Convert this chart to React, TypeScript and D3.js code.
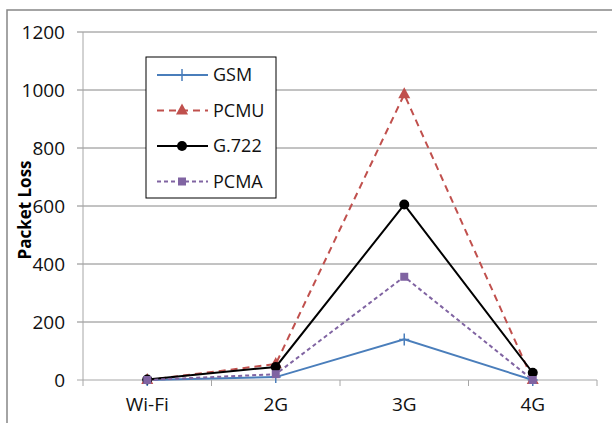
import React from "react";
import * as d3 from "d3";

const categories = ["Wi-Fi", "2G", "3G", "4G"];
const gsm = [0, 10, 140, 0];
const pcmu = [0, 55, 985, 0];
const g722 = [2, 45, 605, 25];
const pcma = [0, 20, 356, 0];
const yTicks = [0, 200, 400, 600, 800, 1000, 1200];

const series = [
  { name: "GSM", values: gsm, color: "#4a7ebb", dash: "", marker: "plus" },
  { name: "PCMU", values: pcmu, color: "#c0504d", dash: "7,5", marker: "triangle" },
  { name: "G.722", values: g722, color: "#000000", dash: "", marker: "circle" },
  { name: "PCMA", values: pcma, color: "#8064a2", dash: "4,3", marker: "square" },
];

const font = "Open Sans";

function Marker({ type, x, y, color }: { type: string; x: number; y: number; color: string }) {
  if (type === "plus")
    return (
      <path d={`M${x - 5},${y}H${x + 5}M${x},${y - 6}V${y + 6}`} stroke={color} strokeWidth={1.5} fill="none" />
    );
  if (type === "triangle")
    return <path d={`M${x},${y - 7}L${x + 6},${y + 4}L${x - 6},${y + 4}Z`} fill={color} />;
  if (type === "circle") return <circle cx={x} cy={y} r={5} fill={color} />;
  return <rect x={x - 4} y={y - 4} width={8} height={8} fill={color} />;
}

export default function App() {
  const W = 612;
  const H = 423;
  const left = 83;
  const right = 597;
  const top = 32;
  const bottom = 380;

  const x = d3.scaleBand().domain(categories).range([left, right]);
  const y = d3.scaleLinear().domain([0, 1200]).range([bottom, top]);
  const cx = (c: string) => (x(c) as number) + x.bandwidth() / 2;

  const line = d3
    .line<number>()
    .x((_, i) => cx(categories[i]))
    .y((d) => y(d));

  const boundaries = [...categories.map((c) => x(c) as number), right];

  return (
    <svg width={W} height={H} style={{ position: "absolute", left: 0, top: 0, fontFamily: font }}>
      <rect x={0} y={0} width={W} height={H} fill="#ffffff" />
      <rect x={7} y={10} width={W + 10} height={H + 10} fill="none" stroke="#868686" strokeWidth={1.5} />

      {yTicks.map((t) => (
        <g key={t}>
          <line x1={left - 6} x2={right} y1={y(t)} y2={y(t)} stroke={t === 0 ? "#a6a6a6" : "#868686"} strokeWidth={1} />
          <text x={65} y={y(t)} dy="0.36em" textAnchor="end" style={{ fontSize: "19px" }} fill="#111">
            {t}
          </text>
        </g>
      ))}
      <line x1={left} x2={left} y1={top} y2={bottom} stroke="#a6a6a6" strokeWidth={1} />
      {boundaries.map((b, i) => (
        <line key={i} x1={b} x2={b} y1={bottom} y2={bottom + 6} stroke="#a6a6a6" strokeWidth={1} />
      ))}
      {categories.map((c) => (
        <text key={c} x={cx(c)} y={bottom + 31} textAnchor="middle" style={{ fontSize: "19px" }} fill="#111">
          {c}
        </text>
      ))}
      <text
        transform={`translate(25,${(top + bottom) / 2 + 4}) rotate(-90)`}
        textAnchor="middle"
        dy="0.35em"
        style={{ fontSize: "17px", fontWeight: "bold" }}
        fill="#000"
      >
        Packet Loss
      </text>

      {series.map((s) => (
        <g key={s.name}>
          <path d={line(s.values) as string} fill="none" stroke={s.color} strokeWidth={2} strokeDasharray={s.dash} />
          {s.values.map((v, i) => (
            <Marker key={i} type={s.marker} x={cx(categories[i])} y={y(v)} color={s.color} />
          ))}
        </g>
      ))}

      <g>
        <rect x={146} y={57} width={130} height={141} fill="#fff" stroke="#000" strokeWidth={1} />
        {series.map((s, i) => {
          const ly = 75 + i * 35.5;
          return (
            <g key={s.name}>
              <line x1={157} x2={208} y1={ly} y2={ly} stroke={s.color} strokeWidth={2} strokeDasharray={s.dash} />
              <Marker type={s.marker} x={182} y={ly} color={s.color} />
              <text x={213} y={ly} dy="0.36em" style={{ fontSize: "18px" }} fill="#111">
                {s.name}
              </text>
            </g>
          );
        })}
      </g>
    </svg>
  );
}
